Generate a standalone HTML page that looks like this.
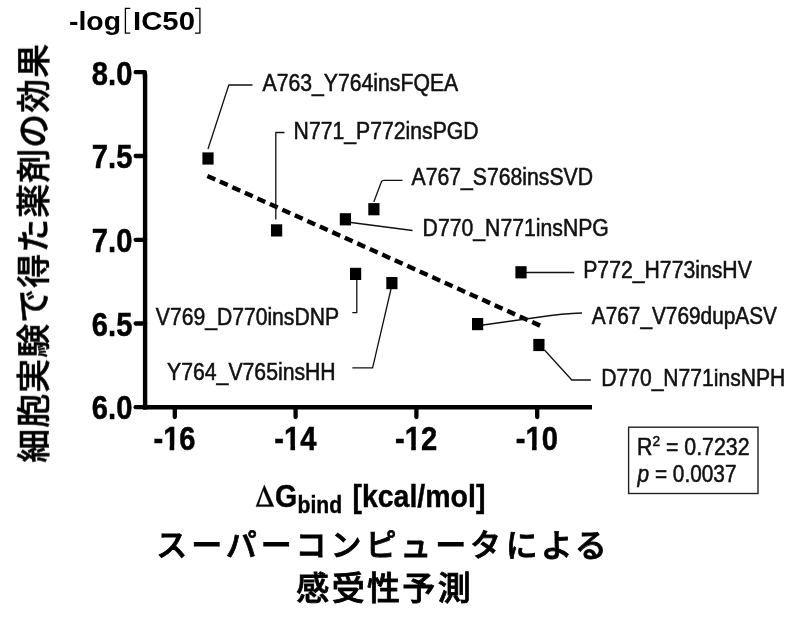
<!DOCTYPE html>
<html><head><meta charset="utf-8"><title>chart</title>
<style>html,body{margin:0;padding:0;background:#fff;}body{width:800px;height:617px;overflow:hidden;font-family:"Liberation Sans",sans-serif;}</style>
</head><body>
<svg width="800" height="617" viewBox="0 0 800 617" style="display:block"><defs><filter id="bl" x="0" y="0" width="800" height="617" filterUnits="userSpaceOnUse" color-interpolation-filters="sRGB"><feGaussianBlur stdDeviation="0.55"/></filter></defs><rect width="800" height="617" fill="#fff"/><g filter="url(#bl)">
<g stroke="#000" stroke-width="4.4" fill="none" stroke-linecap="butt">
<path d="M145.1 74.2 V409.4"/>
<path d="M135.65 72.2 H144.9 V78.2" stroke-width="4.3" stroke-linejoin="round" stroke-linecap="round"/>
<path d="M142.9 407.2 H592"/>
</g>
<g stroke="#000" stroke-width="4.3" fill="none" stroke-linecap="round">
<path d="M135.65 156.0 H145.1"/>
<path d="M135.65 239.8 H145.1"/>
<path d="M135.65 323.5 H145.1"/>
<path d="M135.65 407.2 H145.1"/>
<path d="M174.8 407.2 V417.05"/>
<path d="M295.6 407.2 V417.05"/>
<path d="M416.4 407.2 V417.05"/>
<path d="M537.2 407.2 V417.05"/>
</g>
<g font-family="Liberation Sans, sans-serif" font-weight="bold" font-size="32.6" fill="#000" stroke="#000" stroke-width="0.5">
<text transform="translate(132.4 84.50) scale(0.895 1)" text-anchor="end">8.0</text>
<text transform="translate(132.4 168.30) scale(0.895 1)" text-anchor="end">7.5</text>
<text transform="translate(132.4 252.10) scale(0.895 1)" text-anchor="end">7.0</text>
<text transform="translate(132.4 335.80) scale(0.895 1)" text-anchor="end">6.5</text>
<text transform="translate(132.4 418.60) scale(0.895 1)" text-anchor="end">6.0</text>
<text transform="translate(174.50 450.3) scale(0.895 1)" text-anchor="middle">-16</text>
<rect x="163.99" y="445.27" width="5.66" height="6.33" fill="#fff" stroke="none"/>
<rect x="174.24" y="445.27" width="5.57" height="6.33" fill="#fff" stroke="none"/>
<text transform="translate(295.30 450.3) scale(0.895 1)" text-anchor="middle">-14</text>
<rect x="284.79" y="445.27" width="5.66" height="6.33" fill="#fff" stroke="none"/>
<rect x="295.04" y="445.27" width="5.57" height="6.33" fill="#fff" stroke="none"/>
<text transform="translate(416.10 450.3) scale(0.895 1)" text-anchor="middle">-12</text>
<rect x="405.59" y="445.27" width="5.66" height="6.33" fill="#fff" stroke="none"/>
<rect x="415.84" y="445.27" width="5.57" height="6.33" fill="#fff" stroke="none"/>
<text transform="translate(536.90 450.3) scale(0.895 1)" text-anchor="middle">-10</text>
<rect x="526.39" y="445.27" width="5.66" height="6.33" fill="#fff" stroke="none"/>
<rect x="536.64" y="445.27" width="5.57" height="6.33" fill="#fff" stroke="none"/>
</g>
<path d="M207.4 175.9 L542.9 326.9" stroke="#000" stroke-width="4.4" stroke-dasharray="8.6 5.1" fill="none"/>
<g stroke="#111" stroke-width="1.3" fill="none" stroke-linejoin="round">
<path d="M208 149 L228.8 85 H252.5"/>
<path d="M275.8 219.5 V132.5 H284.5"/>
<path d="M373.8 202 L381.5 181.5 Q382 180.3 384 180.3 H402.5"/>
<path d="M351 222.5 L412.5 230.5"/>
<path d="M526 272.5 H574.3"/>
<path d="M483 325 L540 317 Q562 313.5 582 313"/>
<path d="M544.5 350 L571.8 380 H590.8"/>
<path d="M356.8 279 V312.6 H352.3"/>
<path d="M391 289 L372.6 367.9 H352.3"/>
</g>
<rect x="202.40" y="152.40" width="11.2" height="12.2" fill="#000"/>
<rect x="271.00" y="224.30" width="11.2" height="12.2" fill="#000"/>
<rect x="368.30" y="203.10" width="11.2" height="12.2" fill="#000"/>
<rect x="339.80" y="213.20" width="11.2" height="12.2" fill="#000"/>
<rect x="515.40" y="266.20" width="11.2" height="12.2" fill="#000"/>
<rect x="472.00" y="318.00" width="11.2" height="12.2" fill="#000"/>
<rect x="533.30" y="338.90" width="11.2" height="12.2" fill="#000"/>
<rect x="350.00" y="267.80" width="11.2" height="12.2" fill="#000"/>
<rect x="386.30" y="277.00" width="11.2" height="12.2" fill="#000"/>
<g font-family="Liberation Sans, sans-serif" font-size="23.3" fill="#111" stroke="#111" stroke-width="0.55">
<text transform="translate(262.5 91.2) scale(0.911 1)">A763_Y764insFQEA</text>
<text transform="translate(293.6 139.2) scale(0.911 1)">N771_P772insPGD</text>
<text transform="translate(411.5 185) scale(0.911 1)">A767_S768insSVD</text>
<text transform="translate(422.6 235.7) scale(0.911 1)">D770_N771insNPG</text>
<text transform="translate(583.2 278) scale(0.911 1)">P772_H773insHV</text>
<text transform="translate(591.8 324.2) scale(0.894 1)">A767_V769dupASV</text>
<text transform="translate(601.2 385.5) scale(0.906 1)">D770_N771insNPH</text>
<text transform="translate(155.8 324.8) scale(0.907 1)">V769_D770insDNP</text>
<text transform="translate(167.1 380.3) scale(0.911 1)">Y764_V765insHH</text>
</g>
<rect x="628.6" y="427.2" width="129.4" height="66.3" fill="#fff" stroke="#222" stroke-width="1.4"/>
<g font-family="Liberation Sans, sans-serif" font-size="23.3" fill="#111" stroke="#111" stroke-width="0.55">
<text transform="translate(637 454.6) scale(0.915 1)">R<tspan font-size="15" dy="-8.5">2</tspan><tspan dy="8.5"> = 0.7232</tspan></text>
<text transform="translate(637.6 481.7) scale(0.893 1)"><tspan font-style="italic">p</tspan> = 0.0037</text>
</g>
<g font-family="Liberation Sans, sans-serif" font-weight="bold" fill="#000" stroke="#000" stroke-width="0.4"><path d="M256.0 506.6 L264.3 485.0 L273.9 506.6 Z M258.6 504.7 H269.6 L263.3 490.3 Z" fill-rule="evenodd"/><text transform="translate(275 506.6) scale(0.915 1)" font-size="31.3">G</text><text transform="translate(297.6 512.6) scale(0.91 1)" font-size="23.2">bind</text><text transform="translate(352.4 506.6) scale(0.902 1)" font-size="31.6">[kcal/mol]</text></g>
<g font-family="&quot;Liberation Sans&quot;, &quot;Noto Sans CJK JP&quot;, sans-serif" font-weight="bold" font-size="26" fill="#000">
<text x="69" y="30.2" textLength="52" lengthAdjust="spacingAndGlyphs">-log</text>
<text x="133" y="30.2" textLength="62" lengthAdjust="spacingAndGlyphs">IC50</text>
</g>
<g stroke="#000" stroke-width="1.3" fill="none"><path d="M130.3 8.4 H125.4 V33.2 H130.3"/><path d="M195 8.4 H199.9 V33.2 H195"/></g>
<text transform="translate(46.0 462.8) rotate(-90)" font-family="&quot;Liberation Sans&quot;, &quot;Noto Sans CJK JP&quot;, sans-serif" font-weight="500" font-size="34" letter-spacing="1" fill="#000" stroke="#000" stroke-width="0.5">細胞実験で得た薬剤の効果</text>
<text x="156.3" y="555.8" font-family="&quot;Liberation Sans&quot;, &quot;Noto Sans CJK JP&quot;, sans-serif" font-weight="500" font-size="31" letter-spacing="3.9" fill="#000" stroke="#000" stroke-width="0.8">スーパーコンピュータ</text>
<text x="505.8" y="557.3" font-family="&quot;Liberation Sans&quot;, &quot;Noto Sans CJK JP&quot;, sans-serif" font-weight="500" font-size="32" letter-spacing="2.9" fill="#000" stroke="#000" stroke-width="0.8">による</text>
<text x="296.3" y="599.5" font-family="&quot;Liberation Sans&quot;, &quot;Noto Sans CJK JP&quot;, sans-serif" font-weight="500" font-size="33" letter-spacing="2.35" fill="#000" stroke="#000" stroke-width="0.8">感受性予測</text>
</g></svg>
</body></html>
